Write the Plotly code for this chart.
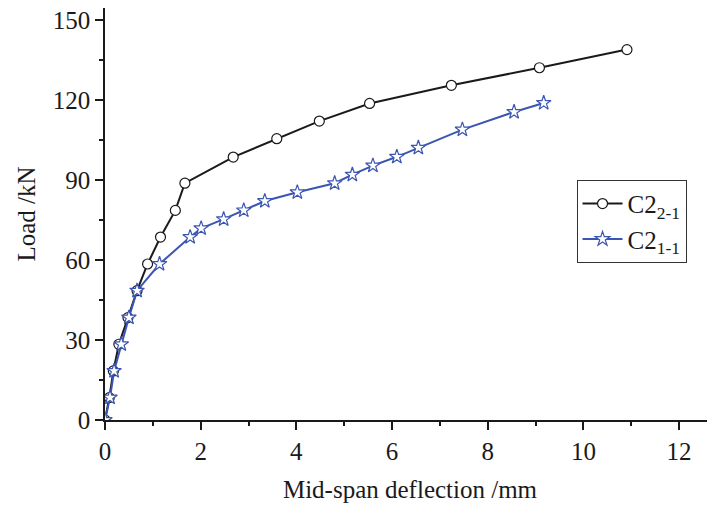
import plotly.graph_objects as go

# C2 2-1 (black, circles)
x_c221 = [0, 0.09, 0.175, 0.29, 0.48, 0.67, 0.89, 1.16, 1.47, 1.67, 2.68, 3.59, 4.48, 5.53, 7.24, 9.08, 10.91]
y_c221 = [0, 8.4, 18.4, 28.4, 38.4, 48.5, 58.5, 68.6, 78.6, 88.8, 98.6, 105.5, 112.1, 118.7, 125.5, 132.1, 138.9]

# C2 1-1 (blue, stars)
x_c211 = [0, 0.105, 0.19, 0.34, 0.5, 0.67, 1.14, 1.78, 2.01, 2.48, 2.9, 3.34, 4.02, 4.8, 5.17, 5.6, 6.1, 6.55, 7.47, 8.55, 9.17]
y_c211 = [0, 8.4, 18.4, 28.4, 38.4, 48.5, 58.5, 68.6, 71.9, 75.3, 78.6, 82.1, 85.4, 88.8, 92.0, 95.4, 98.7, 102.1, 108.9, 115.5, 118.9]

x_ticks = [0, 2, 4, 6, 8, 10, 12]
y_ticks = [0, 30, 60, 90, 120, 150]

FONT = "Liberation Serif, Times New Roman, serif"
BLUE = "#3a55b2"
FS = 25

fig = go.Figure()
fig.add_trace(go.Scatter(
    x=x_c221, y=y_c221, mode="lines+markers", name="C2<sub>2-1</sub>",
    line=dict(color="#1a1a1a", width=2),
    marker=dict(symbol="circle", size=10, color="white", line=dict(color="#1a1a1a", width=1.2)),
))
fig.add_trace(go.Scatter(
    x=x_c211, y=y_c211, mode="lines+markers", name="C2<sub>1-1</sub>",
    line=dict(color=BLUE, width=2),
    marker=dict(symbol="star", size=11, color="white", line=dict(color=BLUE, width=1.2)),
))

axis_common = dict(
    showgrid=False, zeroline=False, showline=True, linecolor="#1a1a1a", linewidth=1.5,
    ticks="outside", ticklen=8, tickwidth=1.5, tickcolor="#1a1a1a",
    tickfont=dict(family=FONT, size=FS, color="#1a1a1a"),
    minor=dict(ticks="outside", ticklen=4, tickwidth=1.5, tickcolor="#1a1a1a"),
    automargin=False, ticklabeloverflow="allow",
)

fig.update_xaxes(
    range=[0, 12.75], tickvals=x_ticks, ticktext=[str(v) for v in x_ticks],
    title=dict(text="Mid-span deflection /mm", font=dict(family=FONT, size=FS, color="#1a1a1a"), standoff=17),
    **axis_common,
)
fig.update_xaxes(minor=dict(tickvals=[1, 3, 5, 7, 9, 11]))
fig.update_yaxes(
    range=[0, 154.5], tickvals=y_ticks, ticktext=[str(v) for v in y_ticks],
    title=dict(text="Load /kN", font=dict(family=FONT, size=FS, color="#1a1a1a"), standoff=10),
    **axis_common,
)
fig.update_yaxes(minor=dict(tickvals=[15, 45, 75, 105, 135]))

# page body has an 8px margin; figure sized to fit the window exactly
fig.update_layout(
    width=707, height=499,
    margin=dict(l=97, r=0, t=0, b=87),
    paper_bgcolor="white", plot_bgcolor="white",
    font=dict(family=FONT, size=FS, color="#1a1a1a"),
    legend=dict(
        x=0.773, y=0.583, xanchor="left", yanchor="top",
        bordercolor="#333333", borderwidth=1, bgcolor="white",
        font=dict(family=FONT, size=FS, color="#1a1a1a"),
        itemwidth=40,
    ),
)

fig.write_html("out.html")
